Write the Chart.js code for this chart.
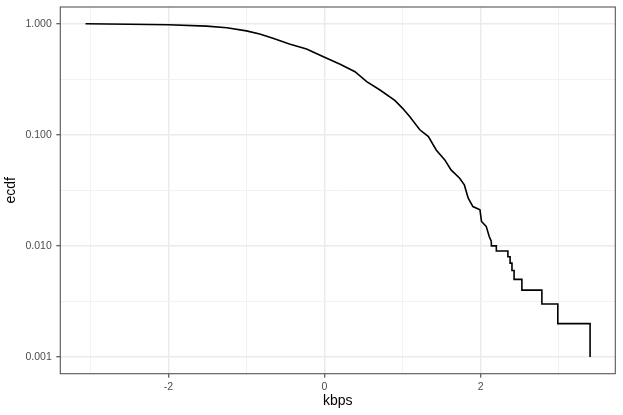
<!DOCTYPE html>
<html>
<head>
<meta charset="utf-8">
<script src="https://cdn.jsdelivr.net/npm/chart.js@4/dist/chart.umd.min.js"></script>
<style>
  html, body { margin: 0; padding: 0; background: #fff; }
  canvas { display: block; }
</style>
</head>
<body>
<canvas id="chart" width="623" height="415"></canvas>
<script>
// smooth body of the complementary ECDF
const smoothKbps = [-3.06, -2.5, -2.0, -1.51, -1.25, -1.0, -0.83, -0.66, -0.45, -0.23, 0.0, 0.2, 0.39, 0.54, 0.71, 0.9, 1.0, 1.09, 1.22, 1.33, 1.43, 1.54, 1.62, 1.73, 1.79, 1.84, 1.9, 1.99, 2.01, 2.07, 2.11, 2.136];
const smoothEcdf = [1.0, 0.988, 0.978, 0.95, 0.918, 0.862, 0.808, 0.739, 0.657, 0.592, 0.499, 0.431, 0.37, 0.301, 0.253, 0.204, 0.173, 0.146, 0.111, 0.0964, 0.0731, 0.0594, 0.0483, 0.0407, 0.0354, 0.0269, 0.0226, 0.0211, 0.0166, 0.015, 0.0121, 0.011];

// stepped tail, one step per observation
const tailKbps = [2.136, 2.136, 2.2, 2.348, 2.376, 2.40, 2.427, 2.527, 2.783, 2.987, 3.40];
const tailEcdf = [0.011, 0.010, 0.009, 0.008, 0.007, 0.006, 0.005, 0.004, 0.003, 0.002, 0.001];

// axis ticks / grid
const xGrid = [-3, -2, -1, 0, 1, 2, 3];
const xMajor = [-2, 0, 2];
const yGrid = [0.001, 0.00316, 0.01, 0.0316, 0.1, 0.316, 1];
const yMajor = [0.001, 0.01, 0.1, 1];
const yLabels = ['0.001', '0.010', '0.100', '1.000'];

const toPoints = (xs, ys) => xs.map((x, i) => ({ x: x, y: ys[i] }));

const isMajorX = v => xMajor.some(m => Math.abs(m - v) < 1e-9);
const majorYIndex = v => yMajor.findIndex(m => Math.abs(m - v) / m < 1e-6);

const panelBorder = {
    id: 'panelBorder',
    afterDraw(chart) {
        const a = chart.chartArea;
        const ctx = chart.ctx;
        ctx.save();
        ctx.strokeStyle = '#555555';
        ctx.lineWidth = 1.1;
        ctx.strokeRect(a.left, a.top, a.right - a.left, a.bottom - a.top);
        ctx.restore();
    }
};

// no extra room for edge labels, the panel is placed by layout padding
const noEdgePadding = s => {
    s.paddingTop = 0;
    s.paddingBottom = 0;
    s.paddingLeft = 0;
    s.paddingRight = 0;
};

const fontFamily = '"Liberation Sans", Arial, sans-serif';

new Chart(document.getElementById('chart'), {
    type: 'line',
    data: {
        datasets: [{
            data: toPoints(smoothKbps, smoothEcdf),
            borderColor: '#000000',
            borderWidth: 1.6,
            pointRadius: 0,
            tension: 0
        }, {
            data: toPoints(tailKbps, tailEcdf),
            borderColor: '#000000',
            borderWidth: 1.6,
            pointRadius: 0,
            stepped: 'before'
        }]
    },
    options: {
        responsive: false,
        animation: false,
        devicePixelRatio: 1,
        layout: { padding: { top: 7, right: 7.7, left: 0, bottom: 0 } },
        plugins: {
            legend: { display: false },
            tooltip: { enabled: false }
        },
        scales: {
            x: {
                type: 'linear',
                min: -3.383,
                max: 3.723,
                afterBuildTicks: s => { s.ticks = xGrid.map(v => ({ value: v })); },
                afterFit: s => { s.height = 41.3; noEdgePadding(s); },
                border: { display: false },
                grid: {
                    color: c => isMajorX(c.tick.value) ? '#EBEBEB' : '#F2F2F2',
                    lineWidth: c => isMajorX(c.tick.value) ? 1.5 : 1,
                    tickColor: c => isMajorX(c.tick.value) ? '#333333' : 'rgba(0,0,0,0)',
                    tickLength: 4,
                    tickWidth: 1
                },
                ticks: {
                    autoSkip: false,
                    maxRotation: 0,
                    padding: 3,
                    color: '#4D4D4D',
                    font: { family: fontFamily, size: 10.5 },
                    callback: v => isMajorX(v) ? String(v) : ''
                },
                title: {
                    display: true,
                    text: 'kbps',
                    color: '#000000',
                    font: { family: fontFamily, size: 14 },
                    padding: { top: 0, bottom: 5 }
                }
            },
            y: {
                type: 'logarithmic',
                min: 0.000708,
                max: 1.413,
                afterBuildTicks: s => { s.ticks = yGrid.map(v => ({ value: v })); },
                afterFit: s => { s.width = 60.3; noEdgePadding(s); },
                border: { display: false },
                grid: {
                    color: c => majorYIndex(c.tick.value) >= 0 ? '#EBEBEB' : '#F2F2F2',
                    lineWidth: c => majorYIndex(c.tick.value) >= 0 ? 1.5 : 1,
                    tickColor: c => majorYIndex(c.tick.value) >= 0 ? '#333333' : 'rgba(0,0,0,0)',
                    tickLength: 4,
                    tickWidth: 1
                },
                ticks: {
                    autoSkip: false,
                    padding: 4.5,
                    color: '#4D4D4D',
                    font: { family: fontFamily, size: 10.5 },
                    callback: v => {
                        const i = majorYIndex(v);
                        return i >= 0 ? yLabels[i] : '';
                    }
                },
                title: {
                    display: true,
                    text: 'ecdf',
                    color: '#000000',
                    font: { family: fontFamily, size: 14 },
                    padding: { top: 3, bottom: 0 }
                }
            }
        }
    },
    plugins: [panelBorder]
});
</script>
</body>
</html>
